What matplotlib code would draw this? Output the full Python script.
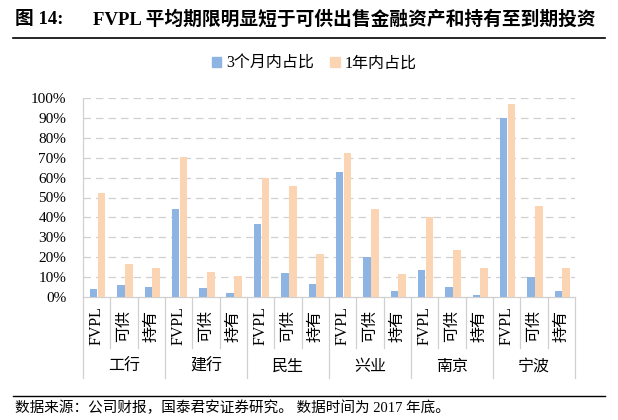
import matplotlib
matplotlib.use('Agg')
import matplotlib.pyplot as plt
import matplotlib.transforms as mtransforms
from matplotlib.patches import Patch
from matplotlib.lines import Line2D
import numpy as np

plt.rcParams['font.family'] = ['Liberation Serif', 'Noto Sans CJK SC', 'DejaVu Sans']

groups = ['工行', '建行', '民生', '兴业', '南京', '宁波']
subs = ['FVPL', '可供', '持有']
# share of assets maturing within 3 months / within 1 year, %
within_3m = [4.0, 5.9, 5.0,
             44.0, 4.5, 2.0,
             36.8, 12.2, 6.4,
             63.0, 20.0, 3.0,
             13.5, 5.0, 1.2,
             90.1, 9.9, 3.0]
within_1y = [52.2, 16.7, 14.7,
             70.2, 12.5, 10.5,
             60.0, 55.9, 21.6,
             72.6, 44.1, 11.5,
             40.0, 23.6, 14.5,
             96.8, 45.5, 14.5]
yticks = [0, 10, 20, 30, 40, 50, 60, 70, 80, 90, 100]

blue = '#8DB4E2'
orange = '#FBD4B4'
grid_c = '#D0D0D0'

fig = plt.figure(figsize=(6.18, 4.2), dpi=100)
ax = fig.add_axes([83/618, 1-297/420, (575-83)/618, (297-98)/420])

x = np.arange(len(within_3m))
ax.bar(x - 0.11, within_3m, width=0.28, color=blue, zorder=3)
ax.bar(x + 0.18, within_1y, width=0.28, color=orange, zorder=3)

ax.set_xlim(-0.5, len(x) - 0.5)
ax.set_ylim(0, 100)
ax.set_yticks(yticks)
ax.set_yticklabels([f'{t}%' for t in yticks], fontsize=11)
ax.tick_params(axis='y', length=0, pad=12)
ax.set_xticks([])
for t in yticks[1:]:
    ax.axhline(t, color=grid_c, lw=0.9, ls=(0, (6, 4)), zorder=1)

for s in ['top', 'right']:
    ax.spines[s].set_visible(False)
ax.spines['left'].set_color(grid_c)
ax.spines['bottom'].set_color(grid_c)
ax.spines['left'].set_linewidth(0.9)
ax.spines['bottom'].set_linewidth(0.9)

trans = mtransforms.blended_transform_factory(ax.transData, ax.transAxes)
sub_bot = -(348-297)/199
grp_bot = -(378-297)/199
for i in range(len(x) + 1):
    b = grp_bot if i % 3 == 0 else sub_bot
    ax.add_line(Line2D([i - 0.5, i - 0.5], [0, b], transform=trans,
                       color=grid_c, lw=0.9, clip_on=False))

for i in x:
    ax.text(i, -(326-297)/199, subs[i % 3], transform=trans, rotation=90,
            ha='center', va='center', fontsize=11.5)
for g, name in enumerate(groups):
    ax.text(g*3 + 1, -(367-297)/199, name, transform=trans,
            ha='center', va='center', fontsize=11.5)

handles = [Patch(color=blue), Patch(color=orange)]
fig.legend(handles, ['3个月内占比', '1年内占比'], loc='center',
           bbox_to_anchor=(314/618, 1-64/420), ncol=2, frameon=False,
           fontsize=11.5, handlelength=0.6, handleheight=0.6,
           handletextpad=0.3, columnspacing=1.0)

fig.text(15/618, 1-20/420, '图 14:', fontsize=13.5, fontweight='bold',
         ha='left', va='center')
fig.text(93/618, 1-20/420, 'FVPL 平均期限明显短于可供出售金融资产和持有至到期投资',
         fontsize=13.5, fontweight='bold', ha='left', va='center')
fig.add_artist(Line2D([13/618, 605/618], [1-38/420, 1-38/420], color='black', lw=1.2))
fig.add_artist(Line2D([13/618, 605/618], [1-396/420, 1-396/420], color='black', lw=1.0))
fig.text(15/618, 1-408/420, '数据来源：公司财报，国泰君安证券研究。 数据时间为 2017 年底。',
         fontsize=10.5, ha='left', va='center')

fig.savefig('out.png', dpi=100)
